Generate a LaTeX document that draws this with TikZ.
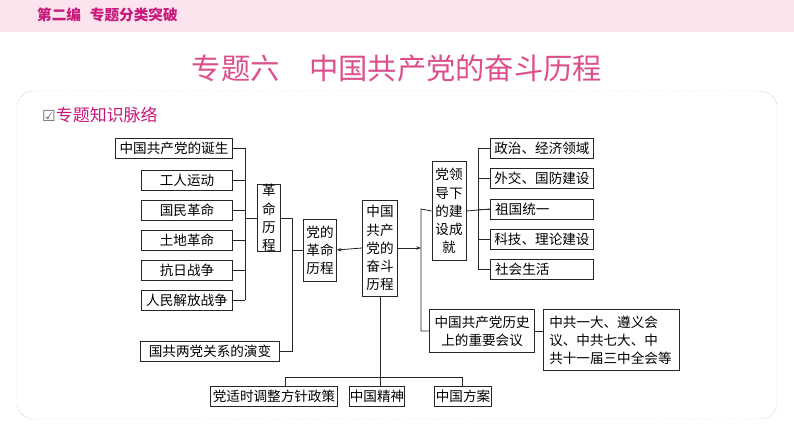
\documentclass[tikz,border=0pt]{standalone}
\usepackage{fontspec}
\setmainfont{Noto Sans CJK SC}
\newfontfamily\symfont{DejaVu Sans}
\usetikzlibrary{arrows.meta}
\definecolor{bandpink}{HTML}{FCE4EE}
\definecolor{headpink}{HTML}{C8177A}
\definecolor{titlepink}{HTML}{DC4F8C}
\tikzset{
  box/.style={draw=black!85, line width=0.7pt, inner sep=0pt, font=\fontsize{11.6}{15.5}\selectfont, align=center},
  hbox/.style={box, minimum height=17pt},
  vbox/.style={box, text width=27pt},
  link/.style={draw=black!85, line width=0.7pt},
  arrow/.style={link, -{Stealth[length=4pt,width=3pt]}}
}
\begin{document}
\begin{tikzpicture}[x=0.03cm, y=-0.03cm]
\useasboundingbox (0,0) rectangle (794,447);
% header ==============================================
\fill[bandpink] (0,0) rectangle (794,32);
\node[anchor=west, text=headpink, font=\fontsize{12.5}{14}\selectfont\bfseries] (head) at (33,15) {第二编\hspace{0.6em}专题分类突破};
\node[text=titlepink, font=\fontsize{25}{28}\selectfont] (title) at (397,68) {专题六\hspace{1em}中国共产党的奋斗历程};
\draw[titlepink!70, densely dotted, rounded corners=14pt] (17,91) rectangle (777,419);
\node[anchor=west, text=headpink, font=\fontsize{14.5}{16}\selectfont] (sec) at (38,115) {{\symfont\color{black!60}\fontsize{13}{13}\selectfont ☑}专题知识脉络};
% left branch =========================================
\node[hbox, minimum width=100pt] (birth) at (174,148) {中国共产党的诞生};
\node[hbox, minimum width=78pt] (labor) at (187,180) {工人运动};
\node[hbox, minimum width=78pt] (natrev) at (187,210) {国民革命};
\node[hbox, minimum width=78pt] (land) at (187,240) {土地革命};
\node[hbox, minimum width=78pt] (antijap) at (187,270) {抗日战争};
\node[hbox, minimum width=78pt] (libwar) at (187,300) {人民解放战争};
\node[vbox, text width=19pt, minimum height=57pt] (revhist) at (269,218) {革\\命\\历\\程};
\node[hbox, minimum width=118pt] (kmt) at (210,351) {国共两党关系的演变};
\node[vbox, text width=28pt, minimum height=53pt] (partyrev) at (320,250) {党的\\革命\\历程};
\node[vbox, text width=30pt, minimum height=82pt] (main) at (380,248) {中国\\共产\\党的\\奋斗\\历程};
\foreach \n in {birth,labor,natrev,land,antijap,libwar}
  \draw[link] (\n.east) -- (245,0 |- \n.east);
\draw[link] (245,148) -- (245,300);
\draw[link] (245,218) -- (revhist.west);
\draw[link] (revhist.east) -- (292,218) -- (292,351) -- (kmt.east);
\draw[link] (292,250) -- (partyrev.west);
\draw[arrow] (main.west) -- (partyrev.east);
% right branch ========================================
\node[vbox, text width=29pt, minimum height=84pt] (build) at (449,211) {党领\\导下\\的建\\设成\\就};
\node[hbox, minimum width=88pt, anchor=west] (polit) at (490,148) {政治、经济领域};
\node[hbox, minimum width=88pt, anchor=west] (dipl) at (490,178) {外交、国防建设};
\node[hbox, minimum width=88pt, anchor=west, align=left, text width=84pt] (unify) at (490,209) {\hspace{2pt}祖国统一};
\node[hbox, minimum width=88pt, anchor=west] (tech) at (490,239) {科技、理论建设};
\node[hbox, minimum width=88pt, anchor=west, align=left, text width=84pt] (life) at (490,269) {\hspace{2pt}社会生活};
\node[box, minimum width=90pt, minimum height=37pt, anchor=west] (meet) at (429,331) {中国共产党历史\\上的重要会议};
\node[box, minimum width=116pt, minimum height=52pt, anchor=west, align=left, text width=112pt] (meetlist) at (543,340) {\hspace{3pt}中共一大、遵义会\\\hspace{3pt}议、中共七大、中\\\hspace{3pt}共十一届三中全会等};
\draw[arrow] (main.east) -- (421,248);
\draw[link] (build.west) -- (421,209) -- (421,331) -- (meet.west);
\draw[link] (build.east) -- (490,209);
\draw[link] (478,148) -- (478,269);
\foreach \n in {polit,dipl,unify,tech,life}
  \draw[link] (478,0 |- \n.west) -- (\n.west);
\draw[link] (meet.east) -- (meet.east -| meetlist.west);
% bottom branch =======================================
\node[hbox, minimum width=108pt] (policy) at (274,396) {党适时调整方针政策};
\node[hbox, minimum width=40pt] (spirit) at (377,396) {中国精神};
\node[hbox, minimum width=48pt] (plan) at (463,396) {中国方案};
\draw[link] (main.south) -- (380,377);
\draw[link] (285,377) -- (462,377);
\draw[link] (285,377) -- (policy.north -| 285,0);
\draw[link] (380,377) -- (spirit.north -| 380,0);
\draw[link] (462,377) -- (plan.north -| 462,0);
\end{tikzpicture}
\end{document}
